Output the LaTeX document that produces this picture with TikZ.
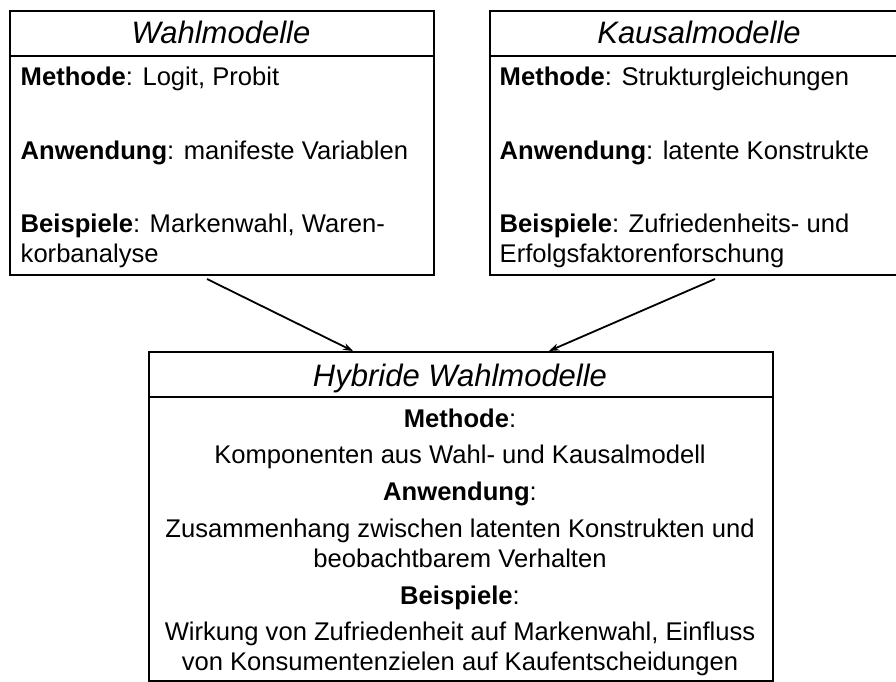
\documentclass[tikz,border=0pt]{standalone}
\usepackage{fontspec}
\setmainfont{Liberation Sans}
\usetikzlibrary{arrows.meta}
\begin{document}
\begin{tikzpicture}[x=1pt,y=-1pt,
  box/.style={draw, line width=2pt, inner sep=0pt, anchor=north west},
  divider/.style={line width=1.3pt},
  ttl/.style={font=\fontsize{31}{33}\selectfont\itshape, anchor=base, inner sep=0pt},
  txt/.style={font=\fontsize{25.6}{28}\selectfont, anchor=base west, inner sep=0pt},
  ctxt/.style={font=\fontsize{25.6}{28}\selectfont, anchor=base, inner sep=0pt},
  arr/.style={-{Stealth[length=10pt,width=7pt]}, line width=1.8pt}]
\useasboundingbox (0,0) rectangle (896,682);
\fill[white] (0,0) rectangle (896,682);

% boxes
\node[box, minimum width=424pt, minimum height=264pt] (wahl) at (9,10) {};
\node[box, minimum width=440pt, minimum height=264pt] (kausal) at (489,10) {};
\node[box, minimum width=624pt, minimum height=329pt] (hyb) at (148,351) {};

\draw[divider] ([yshift=-46pt]wahl.north west) -- ([yshift=-46pt]wahl.north east);
\draw[divider] ([yshift=-46pt]kausal.north west) -- ([yshift=-46pt]kausal.north east);
\draw[divider] ([yshift=-46pt]hyb.north west) -- ([yshift=-46pt]hyb.north east);

% left box texts
\node[ttl] (wt) at (221,44) {Wahlmodelle};
\node[txt] (wm) at (20.5,86) {\textbf{Methode}: Logit, Probit};
\node[txt] (wa) at (20.5,159) {\textbf{Anwendung}: manifeste Variablen};
\node[txt] (wb1) at (20.5,232) {\textbf{Beispiele}: Markenwahl, Waren-};
\node[txt] (wb2) at (20.5,262) {korbanalyse};

% right box texts
\node[ttl] (kt) at (699,44) {Kausalmodelle};
\node[txt] (km) at (499.5,86) {\textbf{Methode}: Strukturgleichungen};
\node[txt] (ka) at (499.5,159) {\textbf{Anwendung}: latente Konstrukte};
\node[txt] (kb1) at (499.5,232) {\textbf{Beispiele}: Zufriedenheits- und};
\node[txt] (kb2) at (499.5,262) {Erfolgsfaktorenforschung};

% bottom box texts
\node[ttl] (ht) at (460,386) {Hybride Wahlmodelle};
\node[ctxt] (hm) at (460,427) {\textbf{Methode}:};
\node[ctxt] (hm2) at (460,463) {Komponenten aus Wahl- und Kausalmodell};
\node[ctxt] (ha) at (460,500) {\textbf{Anwendung}:};
\node[ctxt] (ha2) at (460,537) {Zusammenhang zwischen latenten Konstrukten und};
\node[ctxt] (ha3) at (460,567) {beobachtbarem Verhalten};
\node[ctxt] (hb) at (460,604) {\textbf{Beispiele}:};
\node[ctxt] (hb2) at (460,640) {Wirkung von Zufriedenheit auf Markenwahl, Einfluss};
\node[ctxt] (hb3) at (460,670) {von Konsumentenzielen auf Kaufentscheidungen};

% connectors
\coordinate (w1) at ([xshift=198pt,yshift=-3pt]wahl.south west);
\coordinate (h1) at ([xshift=205pt]hyb.north west);
\coordinate (k1) at ([xshift=226pt,yshift=-3pt]kausal.south west);
\coordinate (h2) at ([xshift=401pt]hyb.north west);
\draw[arr] (w1) -- (h1);
\draw[arr] (k1) -- (h2);
\end{tikzpicture}
\end{document}
